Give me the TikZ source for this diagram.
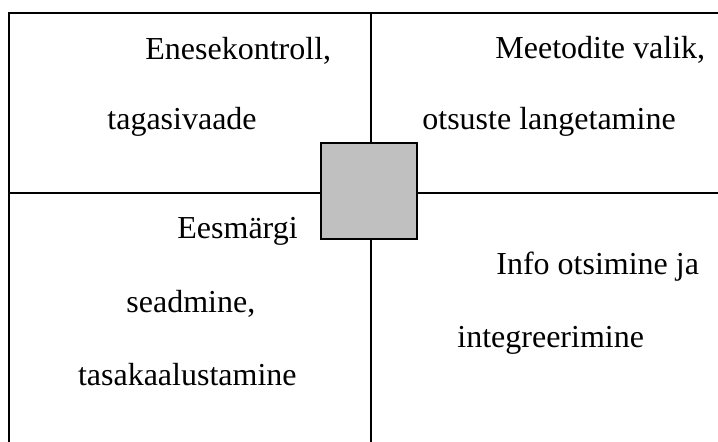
\documentclass[tikz,border=0pt]{standalone}
\usepackage{fontspec}
\setmainfont{Liberation Serif}
\begin{document}
\begin{tikzpicture}[x=0.5pt,y=-0.5pt,
  rule/.style={line width=1pt,line cap=rect},
  cell/.style={inner sep=0pt,font=\fontsize{16}{19}\selectfont},
  hub/.style={draw,line width=1pt,fill=hubgray,minimum width=48.3pt,minimum height=48.2pt,inner sep=0pt}]
\definecolor{hubgray}{RGB}{192,192,192}
\useasboundingbox (0,0) rectangle (718,441);
% frame and cross
\coordinate (tl) at (8.5,13);
\coordinate (tr) at (718,13);
\coordinate (bl) at (8.5,441);
\coordinate (ml) at (8.5,193);
\coordinate (mr) at (718,193);
\coordinate (ct) at (371,13);
\coordinate (cb) at (371,441);
\draw[rule] (tr) -- (tl) -- (bl);
\draw[rule] (ml) -- (mr);
\draw[rule] (ct) -- (cb);
% centre square
\node[hub] (hub) at (369,191) {};
% quadrant texts
\node[cell,anchor=base west] (q1a) at (145,59.3) {Enesekontroll,};
\node[cell,anchor=base west] (q1b) at (107,129.5) {tagasivaade};
\node[cell,anchor=base west] (q2a) at (495,58.3) {Meetodite valik,};
\node[cell,anchor=base west] (q2b) at (422,129.3) {otsuste langetamine};
\node[cell,anchor=base west] (q3a) at (177,238) {Eesmärgi};
\node[cell,anchor=base west] (q3b) at (126,312) {seadmine,};
\node[cell,anchor=base east] (q3c) at (297,385) {tasakaalustamine};
\node[cell,anchor=base west] (q4a) at (496,274) {Info otsimine ja};
\node[cell,anchor=base west] (q4b) at (457,347) {integreerimine};
\end{tikzpicture}
\end{document}
